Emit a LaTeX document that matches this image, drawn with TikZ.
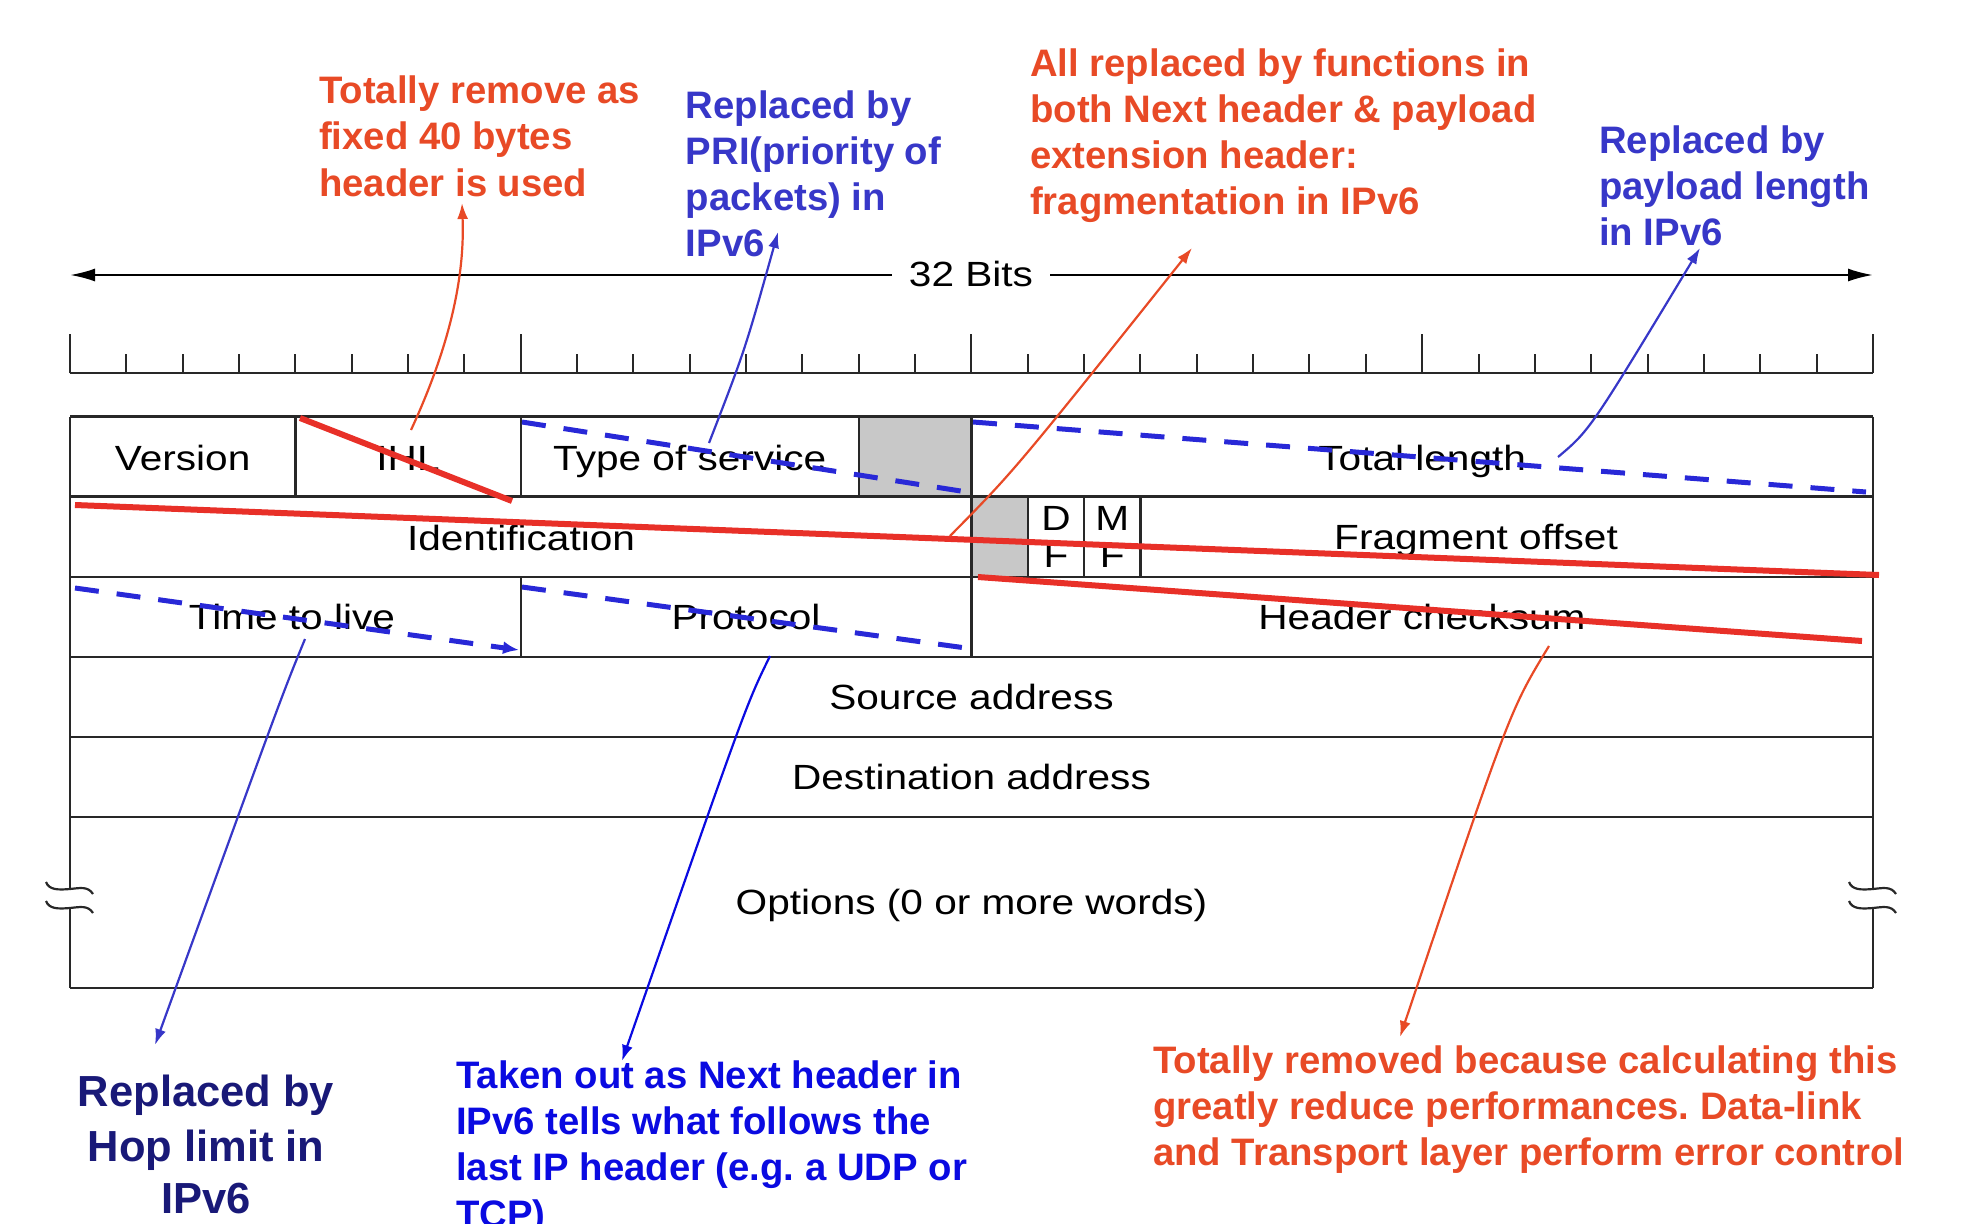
\documentclass[tikz,border=0pt]{standalone}
\usepackage{fontspec}
\setmainfont{Liberation Sans}
\newfontfamily\blk[FakeStretch=1.16]{Liberation Sans}
\usetikzlibrary{arrows.meta}
\definecolor{annred}{RGB}{232,74,38}
\definecolor{linered}{RGB}{232,48,40}
\definecolor{annblue}{RGB}{55,55,200}
\definecolor{dashblue}{RGB}{40,40,215}
\definecolor{navyblue}{RGB}{25,25,120}
\definecolor{pureblue}{RGB}{10,10,225}
\definecolor{cellgray}{RGB}{200,200,200}
\definecolor{gridline}{RGB}{40,40,40}
\frenchspacing
\begin{document}
\begin{tikzpicture}[x=1pt,y=-1pt,
  fieldtxt/.style={font={\blk\fontsize{35}{42}\selectfont}, anchor=base, inner sep=0pt, text=black},
  annot/.style={font={\bfseries\fontsize{38.3}{46}\selectfont}, anchor=base west, inner sep=0pt},
  annotbig/.style={font={\bfseries\fontsize{43.5}{53}\selectfont}, anchor=base, inner sep=0pt},
  grid/.style={draw=gridline, line width=2.2pt},
  tickln/.style={draw=gridline, line width=2pt},
  redbar/.style={draw=linered, line width=6pt},
  bluedash/.style={draw=dashblue, line width=5pt, dash pattern=on 24pt off 18pt},
  conn/.style={line width=2.2pt, -{Latex[length=16pt,width=11pt]}},
  bigtip/.style={-{Latex[length=25pt,width=13pt]}, draw=black, line width=2.2pt}
]
\useasboundingbox (0,0) rectangle (1966,1224);

% ---- 32 bits arrow
\node[fieldtxt, anchor=center, inner xsep=17pt] (bits) at (971,273.5) {32 Bits};
\coordinate (bitsL) at (70,275);
\coordinate (bitsR) at (1873,275);
\draw[bigtip] (bits.west |- bitsL) -- (bitsL);
\draw[bigtip] (bits.east |- bitsR) -- (bitsR);

% ---- ruler
\draw[tickln, line width=2.4pt] (70,373) -- (1873,373);
\foreach \b in {0,...,32} {
  \draw[tickln] ({70+56.34*\b},373) -- ({70+56.34*\b},354);
}
\foreach \b in {0,8,16,24,32} {
  \draw[tickln] ({70+56.34*\b},373) -- ({70+56.34*\b},334);
}

% ---- gray cells
\fill[cellgray] (858.8,416.5) rectangle (971.5,496.5);
\fill[cellgray] (971.5,496.5) rectangle (1027.8,576.7);

% ---- grid
\foreach \yy in {416.5,496.5,576.7,656.7,736.7,816.7,988} {
  \draw[grid] (70,\yy) -- (1873,\yy);
}
\draw[grid] (70,416.5) -- (70,889);
\draw[grid] (70,908) -- (70,988);
\draw[grid] (1873,416.5) -- (1873,889);
\draw[grid] (1873,908) -- (1873,988);
\foreach \xx in {295.4,520.7,858.8,971.5} { \draw[grid] (\xx,416.5) -- (\xx,496.5); }
\foreach \xx in {971.5,1027.8,1084.2,1140.5} { \draw[grid] (\xx,496.5) -- (\xx,576.7); }
\foreach \xx in {520.7,971.5} { \draw[grid] (\xx,576.7) -- (\xx,656.7); }

% ---- break marks
\foreach \xx in {70,1873} {
  \foreach \yy in {889,908} {
    \draw[draw=gridline, line width=2.2pt] (\xx-24,\yy-7) .. controls (\xx-21,\yy+1) and (\xx-12,\yy+1) .. (\xx,\yy)
      .. controls (\xx+10,\yy-1) and (\xx+18,\yy-3) .. (\xx+23,\yy+5);
  }
}

% ---- field texts
\node[fieldtxt] (ver) at (182.7,470) {Version};
\node[fieldtxt] (ihl) at (408,470) {IHL};
\node[fieldtxt] (tos) at (689.7,470) {Type of service};
\node[fieldtxt] (totlen) at (1422.2,470) {Total length};
\node[fieldtxt] (ident) at (521,550) {Identification};
\node[fieldtxt] (dfa) at (1056,530) {D};
\node[fieldtxt] (dfb) at (1056,567) {F};
\node[fieldtxt] (mfa) at (1112.3,530) {M};
\node[fieldtxt] (mfb) at (1112.3,567) {F};
\node[fieldtxt] (fragoff) at (1476,549) {Fragment offset};
\node[fieldtxt] (ttl) at (292,629) {Time to live};
\node[fieldtxt] (proto) at (746,629) {Protocol};
\node[fieldtxt] (hcs) at (1422,629) {Header checksum};
\node[fieldtxt] (src) at (971.5,709) {Source address};
\node[fieldtxt] (dst) at (971.5,789) {Destination address};
\node[fieldtxt] (opts) at (971.5,914.5) {Options (0 or more words)};

% ---- strike lines
\draw[redbar] (300,418) -- (512,501);
\draw[redbar] (75,505) -- (1879,575);
\draw[redbar] (978,577) -- (1862,641);
\draw[bluedash] (522,422) -- (967,492);
\draw[bluedash] (973,422) -- (1866,492);
\draw[bluedash] (522,587) -- (966,648);
\draw[bluedash, -{Latex[length=16pt,width=13pt]}] (75,588) -- (519,650);

% ---- annotations
\node[annot, text=annred] (ra1) at (319,103.3) {Totally remove as};
\node[annot, text=annred] (ra2) at (319,149.7) {fixed 40 bytes};
\node[annot, text=annred] (ra3) at (319,196) {header is used};

\node[annot, text=annblue] (pa1) at (685.6,118.3) {Replaced by};
\node[annot, text=annblue] (pa2) at (685.6,164.3) {PRI(priority of};
\node[annot, text=annblue] (pa3) at (685.6,210.7) {packets) in};
\node[annot, text=annblue] (pa4) at (685.6,256.7) {IPv6};

\node[annot, text=annred] (fa1) at (1030,76.7) {All replaced by functions in};
\node[annot, text=annred] (fa2) at (1030,122.3) {both Next header \& payload};
\node[annot, text=annred] (fa3) at (1030,168.3) {extension header:};
\node[annot, text=annred] (fa4) at (1030,214.3) {fragmentation in IPv6};

\node[annot, text=annblue] (la1) at (1599,153.3) {Replaced by};
\node[annot, text=annblue] (la2) at (1599,199.3) {payload length};
\node[annot, text=annblue] (la3) at (1599,245.7) {in IPv6};

\node[annotbig, text=navyblue] (ha1) at (206,1106.7) {Replaced by};
\node[annotbig, text=navyblue] (ha2) at (206,1161.7) {Hop limit in};
\node[annotbig, text=navyblue] (ha3) at (206,1213) {IPv6};

\node[annot, text=pureblue] (na1) at (456,1088.3) {Taken out as Next header in};
\node[annot, text=pureblue] (na2) at (456,1134.3) {IPv6 tells what follows the};
\node[annot, text=pureblue] (na3) at (456,1180.7) {last IP header (e.g. a UDP or};
\node[annot, text=pureblue] (na4) at (456,1227) {TCP)};

\node[annot, text=annred] (ca1) at (1153,1073.3) {Totally removed because calculating this};
\node[annot, text=annred] (ca2) at (1153,1119.3) {greatly reduce performances. Data-link};
\node[annot, text=annred] (ca3) at (1153,1165.7) {and Transport layer perform error control};

% ---- connector end points
\coordinate (ihlfoot) at (411,430);
\coordinate (ihltip) at (462,203);
\coordinate (idfoot) at (950,536);
\coordinate (idtip) at (1192,248);
\coordinate (hcsfoot) at (1549,646);
\coordinate (hcstip) at (1400,1037);
\coordinate (tosfoot) at (709,443);
\coordinate (tostip) at (778,232);
\coordinate (tlfoot) at (1558,457);
\coordinate (tltip) at (1700,248);
\coordinate (ttlfoot) at (305,639);
\coordinate (ttltip) at (155,1045);
\coordinate (protofoot) at (770,656);
\coordinate (prototip) at (622,1061);

% ---- connectors
\draw[conn, annred] (ihlfoot) .. controls (448,350) and (465,280) .. (ihltip);
\draw[conn, annred] (idfoot) .. controls (1015,470) .. (idtip);
\draw[conn, annred] (hcsfoot) .. controls (1510,710) .. (hcstip);
\draw[conn, annblue] (tosfoot) .. controls (745,350) .. (tostip);
\draw[conn, annblue] (tlfoot) .. controls (1590,430) .. (tltip);
\draw[conn, annblue] (ttlfoot) .. controls (282,695) .. (ttltip);
\draw[conn, pureblue] (protofoot) .. controls (746,705) .. (prototip);
\end{tikzpicture}
\end{document}
